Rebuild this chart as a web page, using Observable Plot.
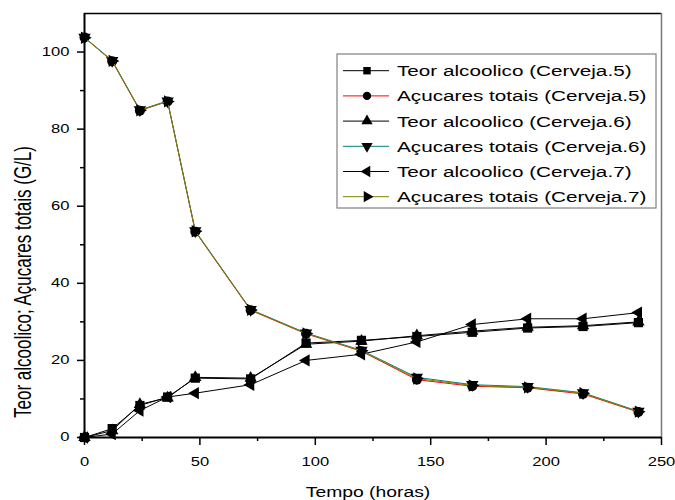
<!DOCTYPE html>
<html>
<head>
<meta charset="utf-8">
<script src="https://cdn.jsdelivr.net/npm/d3@7"></script>
<script src="https://cdn.jsdelivr.net/npm/@observablehq/plot@0.6"></script>
<style>
  body { margin: 0; background: #fff; }
  #grafico { width: 675px; height: 500px; }
</style>
</head>
<body>
<div id="grafico"></div>
<script>
// Tempo de fermentação (horas)
const tempo = [0, 12, 24, 36, 48, 72, 96, 120, 144, 168, 192, 216, 240];

// Teor alcoolico (G/L)
const alcool5 = [0, 2.3, 8.3, 10.5, 15.4, 15.2, 24.5, 25.2, 26.2, 27.3, 28.4, 28.8, 29.8];
const alcool6 = [0, 1.8, 8.6, 10.3, 15.6, 15.4, 24.2, 25.0, 26.4, 27.6, 28.6, 29.0, 30.0];
const alcool7 = [0, 0.9, 7.0, 10.5, 11.5, 13.7, 20.0, 21.6, 24.8, 29.3, 30.8, 30.8, 32.4];

// Açucares totais (G/L)
const acucar5 = [103.8, 97.6, 84.8, 87.2, 53.4, 33.0, 26.9, 22.4, 15.0, 13.3, 12.9, 11.3, 6.6];
const acucar6 = [103.8, 97.8, 85.0, 87.3, 53.6, 33.2, 27.1, 22.6, 15.6, 13.7, 13.2, 11.6, 6.8];
const acucar7 = [103.7, 97.7, 84.9, 87.2, 53.5, 33.1, 27.0, 22.5, 15.3, 13.5, 13.0, 11.5, 6.7];

const rotulos = [
  "Teor alcoolico (Cerveja.5)",
  "Açucares totais (Cerveja.5)",
  "Teor alcoolico (Cerveja.6)",
  "Açucares totais (Cerveja.6)",
  "Teor alcoolico (Cerveja.7)",
  "Açucares totais (Cerveja.7)"
];
const valores = [alcool5, acucar5, alcool6, acucar6, alcool7, acucar7];

const xTicks = [0, 50, 100, 150, 200, 250];
const xMinor = [25, 75, 125, 175, 225];
const yTicks = [0, 20, 40, 60, 80, 100];
const yMinor = [10, 30, 50, 70, 90];

// Aparência de cada série: cor da linha, símbolo e rotação do símbolo
const estilos = [
  {cor: "#000000", simbolo: "square",   giro: 0,   r: 5.2},
  {cor: "#ff0000", simbolo: "circle",   giro: 0,   r: 5},
  {cor: "#000000", simbolo: "triangle", giro: 0,   r: 4.6},
  {cor: "#008080", simbolo: "triangle", giro: 180, r: 4.6},
  {cor: "#000000", simbolo: "triangle", giro: -90, r: 4.6},
  {cor: "#808000", simbolo: "triangle", giro: 90,  r: 4.6}
];

const series = rotulos.map((nome, i) => ({
  nome,
  pontos: tempo.map((t, j) => ({t, v: valores[i][j]})),
  ...estilos[i]
}));

const esticar = 1.38; // largura das letras
const fonte = "'Liberation Sans', Arial, Helvetica, sans-serif";

const marcas = [];
for (const s of series) {
  marcas.push(Plot.line(s.pontos, {x: "t", y: "v", stroke: s.cor, strokeWidth: 1}));
  marcas.push(Plot.dot(s.pontos, {x: "t", y: "v", symbol: s.simbolo, rotate: s.giro, r: s.r, fill: "black", stroke: "none"}));
}

const plot = Plot.plot({
  width: 675,
  height: 500,
  marginLeft: 84,
  marginRight: 14,
  marginTop: 13,
  marginBottom: 63,
  style: {fontFamily: fonte, fontSize: "12px", background: "#fff", color: "#000"},
  x: {domain: [0, 250]},
  y: {domain: [0, 110]},
  marks: [
    Plot.ruleY([110], {stroke: "#000", strokeWidth: 1.5}),
    Plot.ruleX([250], {stroke: "#777", strokeWidth: 1.5}),
    ...marcas,
    Plot.ruleX([0], {stroke: "#000", strokeWidth: 2}),
    Plot.ruleY([0], {stroke: "#000", strokeWidth: 2}),
    Plot.axisX({ticks: xTicks, tickSize: 8, tickPadding: 12, strokeWidth: 1.5, label: null, fontSize: 12}),
    Plot.axisX({ticks: xMinor, tickSize: 4, tickFormat: () => "", strokeWidth: 1.5, label: null}),
    Plot.axisY({ticks: yTicks, tickSize: 7, tickPadding: 8, strokeWidth: 1.5, label: null, fontSize: 12}),
    Plot.axisY({ticks: yMinor, tickSize: 4, tickFormat: () => "", strokeWidth: 1.5, label: null})
  ]
});

document.getElementById("grafico").appendChild(plot);

// Letras largas nos rótulos dos eixos
d3.select(plot).selectAll("g[aria-label$='tick label'] text").each(function () {
  const t = this.getAttribute("transform") || "";
  const x = +this.getAttribute("x") || 0, y = +this.getAttribute("y") || 0;
  this.setAttribute("transform", `${t} translate(${x},${y}) scale(${esticar},1) translate(${-x},${-y})`);
});

const svg = d3.select(plot);

// Títulos dos eixos
svg.append("text")
  .attr("transform", `translate(368,497) scale(${esticar},1)`)
  .attr("text-anchor", "middle")
  .attr("font-family", fonte)
  .attr("font-size", 14)
  .attr("fill", "#000")
  .text("Tempo (horas)");

svg.append("text")
  .attr("transform", `translate(31,282) scale(${esticar},1) rotate(-90)`)
  .attr("text-anchor", "middle")
  .attr("font-family", fonte)
  .attr("font-size", 17)
  .attr("fill", "#000")
  .text("Teor alcoolico; Açucares totais (G/L)");

// Legenda
const leg = svg.append("g").attr("aria-label", "legenda");
leg.append("rect")
  .attr("x", 337).attr("y", 54).attr("width", 319).attr("height", 154)
  .attr("fill", "#fff").attr("stroke", "#808080").attr("stroke-width", 1.2);

const simbolosD3 = {square: d3.symbolSquare, circle: d3.symbolCircle, triangle: d3.symbolTriangle};
series.forEach((s, i) => {
  const y = 70.7 + i * 25.2;
  const g = leg.append("g");
  g.append("line")
    .attr("x1", 343).attr("x2", 389).attr("y1", y).attr("y2", y)
    .attr("stroke", s.cor).attr("stroke-width", 1);
  g.append("path")
    .attr("d", d3.symbol(simbolosD3[s.simbolo], Math.PI * 4.2 * 4.2)())
    .attr("transform", `translate(367,${y}) rotate(${s.giro})`)
    .attr("fill", "#000");
  g.append("text")
    .attr("transform", `translate(397,${y + 5.5}) scale(${esticar},1)`)
    .attr("text-anchor", "start")
    .attr("font-family", fonte)
    .attr("font-size", 15)
    .attr("fill", "#000")
    .text(s.nome);
});
</script>
</body>
</html>
